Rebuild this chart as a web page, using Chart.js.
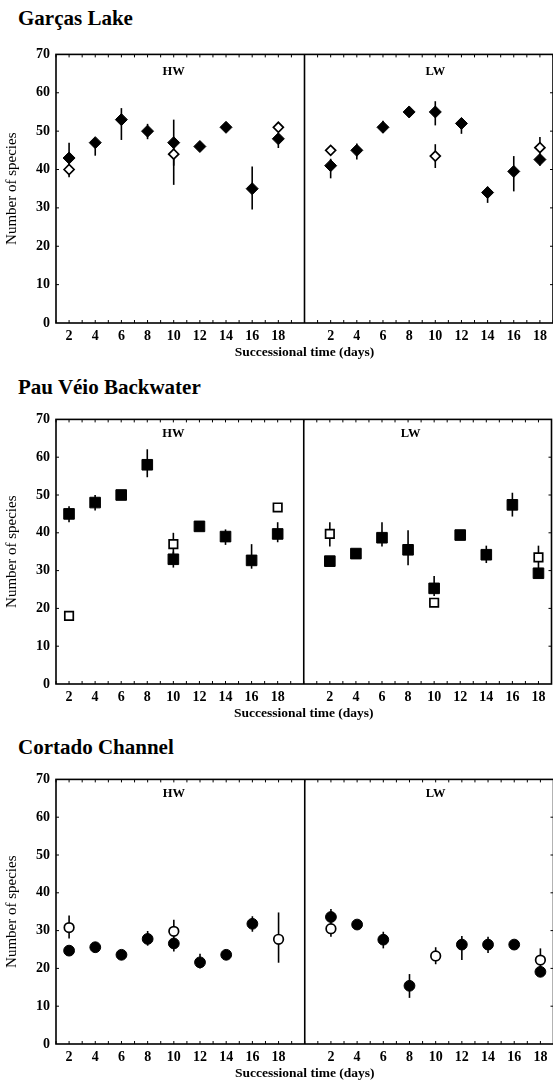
<!DOCTYPE html>
<html>
<head>
<meta charset="utf-8">
<script src="https://cdn.jsdelivr.net/npm/chart.js@4"></script>
<style>
  body { margin: 0; background: #fff; width: 553px; height: 1086px; overflow: hidden; position: relative; font-family: "Liberation Serif", serif; }
  .site { position: absolute; left: 18px; font-weight: bold; font-size: 21px; line-height: 24px; color: #000; }
  canvas { position: absolute; left: 0; }
</style>
</head>
<body>
<div class="site" style="top:6px">Garças Lake</div>
<canvas id="chart-1" width="560" height="321" style="top:40px"></canvas>
<div class="site" style="top:375px">Pau Véio Backwater</div>
<canvas id="chart-2" width="560" height="317" style="top:405px"></canvas>
<div class="site" style="top:735px">Cortado Channel</div>
<canvas id="chart-3" width="560" height="317" style="top:765px"></canvas>
<script>
const days = [2, 4, 6, 8, 10, 12, 14, 16, 18];
const periods = ['HW', 'LW'];

// Garcas Lake
const garcasHW = [43, 47, 53, 50, 47, 46, 51, 35, 48];
const garcasHWLow = [39, 43.6, 47.7, 47.9, 41, null, null, 29.6, 45.6];
const garcasHWHigh = [47, 48, 56, 51.9, 53, null, null, 40.8, 49];
const garcasHWOpen = [40, null, null, null, 44, null, null, null, 51];
const garcasHWOpenLow = [38, null, null, null, 36, null, null, null, null];
const garcasHWOpenHigh = [42, null, null, null, 46, null, null, null, null];
const garcasLW = [41, 45, 51, 55, 55, 52, 34, 39.5, 42.6];
const garcasLWLow = [37.7, 42.6, 49.5, null, 51.5, 49.3, 31.3, 34.3, 41];
const garcasLWHigh = [42.8, 46.8, 52.7, null, 57.8, 53.4, 35.5, 43.5, 44];
const garcasLWOpen = [45, null, null, null, 43.5, null, null, null, 45.7];
const garcasLWOpenLow = [null, null, null, null, 40.4, null, null, null, 43];
const garcasLWOpenHigh = [null, null, null, null, 46.6, null, null, null, 48.5];

// Pau Veio Backwater
const pauHW = [45, 48, 50, 58, 33, 41.7, 39, 32.7, 39.7];
const pauHWLow = [42.8, 45.9, null, 54.7, 30.8, null, 36.8, 30.5, 37.5];
const pauHWHigh = [47, 50, null, 62.1, 35, null, 40.9, 37, 42.8];
const pauHWOpen = [18, null, null, null, 37, null, null, null, 46.7];
const pauHWOpenLow = [null, null, null, null, 34, null, null, null, null];
const pauHWOpenHigh = [null, null, null, null, 40, null, null, null, null];
const pauLW = [32.5, 34.5, 38.7, 35.5, 25.3, 39.4, 34.2, 47.4, 29.3];
const pauLWLow = [null, null, 36.4, 31.4, 23.3, null, 32, 44.3, null];
const pauLWHigh = [null, null, 42.8, 40.7, 28.6, null, 36.6, 50.6, null];
const pauLWOpen = [39.7, null, null, null, 21.5, null, null, null, 33.5];
const pauLWOpenLow = [36.4, null, null, null, null, null, null, null, 30.5];
const pauLWOpenHigh = [42.8, null, null, null, null, null, null, null, 36.6];

// Cortado Channel
const cortadoHW = [24.7, 25.6, 23.6, 27.8, 26.6, 21.6, 23.6, 31.8, null];
const cortadoHWLow = [null, null, null, 26, 24.5, 20, null, 29.7, null];
const cortadoHWHigh = [null, null, null, 29.9, 28, 23.9, null, 33.8, null];
const cortadoHWOpen = [30.8, null, null, null, 29.8, null, null, null, 27.7];
const cortadoHWOpenLow = [27.9, null, null, null, 28, null, null, null, 21.5];
const cortadoHWOpenHigh = [34, null, null, null, 32.9, null, null, null, 34.8];
const cortadoLW = [33.6, 31.6, 27.6, 15.4, null, 26.3, 26.3, 26.3, 19.1];
const cortadoLWLow = [32, null, 25.3, 12.2, null, 22.2, 24.1, null, null];
const cortadoLWHigh = [35.7, null, 29.7, 18.5, null, 28.6, 28.4, null, null];
const cortadoLWOpen = [30.5, null, null, null, 23.3, null, null, null, 22.2];
const cortadoLWOpenLow = [28.4, null, null, null, 21.1, null, null, null, 20];
const cortadoLWOpenHigh = [32, null, null, null, 25.6, null, null, null, 25.3];

// LW half sits to the right of HW on one shared x axis
const LW_SHIFT = 20;

Chart.defaults.font.family = '"Liberation Serif", serif';
Chart.defaults.color = '#000';

function points(values, low, high, shift) {
  const pts = [];
  values.forEach((v, i) => {
    if (v !== null) pts.push({ x: days[i] + shift, y: v, low: low[i], high: high[i] });
  });
  return pts;
}

const frame = {
  id: 'frame',
  beforeDatasetsDraw(chart) {
    const { ctx, scales: { y } } = chart;
    ctx.save();
    ctx.strokeStyle = '#000';
    ctx.lineWidth = 1.6;
    chart.data.datasets.forEach((ds, i) => {
      chart.getDatasetMeta(i).data.forEach((pt, j) => {
        const d = ds.data[j];
        if (d.low == null || d.high == null) return;
        ctx.beginPath();
        ctx.moveTo(pt.x, y.getPixelForValue(d.low));
        ctx.lineTo(pt.x, y.getPixelForValue(d.high));
        ctx.stroke();
      });
    });
    ctx.restore();
  },
  afterDraw(chart, args, opts) {
    const { ctx, chartArea: a, scales: { x, y } } = chart;
    ctx.save();
    ctx.strokeStyle = '#000';
    ctx.lineWidth = 1.6;
    ctx.strokeRect(a.left, a.top, a.right - a.left, a.bottom - a.top);
    const dx = x.getPixelForValue(LW_SHIFT);
    ctx.beginPath();
    ctx.moveTo(dx, a.top);
    ctx.lineTo(dx, a.bottom);
    ctx.stroke();
    // small inner ticks
    ctx.lineWidth = 1;
    ctx.beginPath();
    for (let v = 1; v <= 39; v++) {
      const px = x.getPixelForValue(v);
      ctx.moveTo(px, a.bottom); ctx.lineTo(px, a.bottom - 3);
      ctx.moveTo(px, a.top); ctx.lineTo(px, a.top + 3);
    }
    for (let v = 10; v < 70; v += 10) {
      const py = y.getPixelForValue(v);
      ctx.moveTo(a.left, py); ctx.lineTo(a.left + 3, py);
      ctx.moveTo(a.right, py); ctx.lineTo(a.right - 3, py);
    }
    ctx.stroke();
    ctx.fillStyle = '#000';
    ctx.font = 'bold 12.5px "Liberation Serif", serif';
    ctx.textAlign = 'center';
    ctx.textBaseline = 'middle';
    ctx.fillText(periods[0], x.getPixelForValue(opts.hwAt), a.top + opts.labelDy);
    ctx.fillText(periods[1], x.getPixelForValue(opts.lwAt + LW_SHIFT), a.top + opts.labelDy);
    ctx.restore();
  }
};

const xTicks = days.map(d => ({ value: d })).concat(days.map(d => ({ value: d + LW_SHIFT })));

function makeChart(id, style, radius, openRadius, sets, label) {
  const filled = { pointStyle: style, pointRadius: radius, backgroundColor: '#000', borderColor: '#000', borderWidth: 1 };
  const open = { pointStyle: style, pointRadius: openRadius, backgroundColor: '#fff', borderColor: '#000', borderWidth: 1.7 };
  new Chart(document.getElementById(id), {
    type: 'scatter',
    data: {
      datasets: [
        Object.assign({ data: points(sets[0], sets[1], sets[2], 0) }, filled),
        Object.assign({ data: points(sets[3], sets[4], sets[5], 0) }, open),
        Object.assign({ data: points(sets[6], sets[7], sets[8], LW_SHIFT) }, filled),
        Object.assign({ data: points(sets[9], sets[10], sets[11], LW_SHIFT) }, open)
      ]
    },
    options: {
      responsive: false,
      animation: false,
      layout: { padding: { top: 8, left: 0, right: 0, bottom: 0 } },
      plugins: {
        legend: { display: false },
        tooltip: { enabled: false },
        frame: label
      },
      scales: {
        x: {
          type: 'linear', min: 1, max: 39,
          grid: { display: false, drawTicks: false },
          border: { display: false },
          afterBuildTicks: s => { s.ticks = xTicks.map(t => ({ value: t.value })); },
          afterFit: s => { s.height = 38; },
          ticks: {
            padding: 5, autoSkip: false, maxRotation: 0,
            font: { size: 14, weight: 'bold' },
            callback: v => v > LW_SHIFT ? v - LW_SHIFT : v
          },
          title: { display: true, text: 'Successional time (days)', font: { size: 13.5, weight: 'bold' }, padding: { top: 0, bottom: 0 } }
        },
        y: {
          min: 0, max: 70,
          grid: { display: false, drawTicks: false },
          border: { display: false },
          afterFit: s => { s.width = 56; },
          ticks: { stepSize: 10, padding: 6, font: { size: 14, weight: 'bold' } },
          title: { display: true, text: 'Number of species', font: { size: 15 }, padding: { top: 3, bottom: 0 } }
        }
      }
    },
    plugins: [frame]
  });
}

makeChart('chart-1', 'rectRot', 6, 5,
  [garcasHW, garcasHWLow, garcasHWHigh, garcasHWOpen, garcasHWOpenLow, garcasHWOpenHigh,
   garcasLW, garcasLWLow, garcasLWHigh, garcasLWOpen, garcasLWOpenLow, garcasLWOpenHigh],
  { hwAt: 10, lwAt: 10, labelDy: 17 });

makeChart('chart-2', 'rect', 7.5, 6,
  [pauHW, pauHWLow, pauHWHigh, pauHWOpen, pauHWOpenLow, pauHWOpenHigh,
   pauLW, pauLWLow, pauLWHigh, pauLWOpen, pauLWOpenLow, pauLWOpenHigh],
  { hwAt: 10, lwAt: 8.2, labelDy: 14 });

makeChart('chart-3', 'circle', 5.4, 4.8,
  [cortadoHW, cortadoHWLow, cortadoHWHigh, cortadoHWOpen, cortadoHWOpenLow, cortadoHWOpenHigh,
   cortadoLW, cortadoLWLow, cortadoLWHigh, cortadoLWOpen, cortadoLWOpenLow, cortadoLWOpenHigh],
  { hwAt: 10, lwAt: 10, labelDy: 14 });
</script>
</body>
</html>
